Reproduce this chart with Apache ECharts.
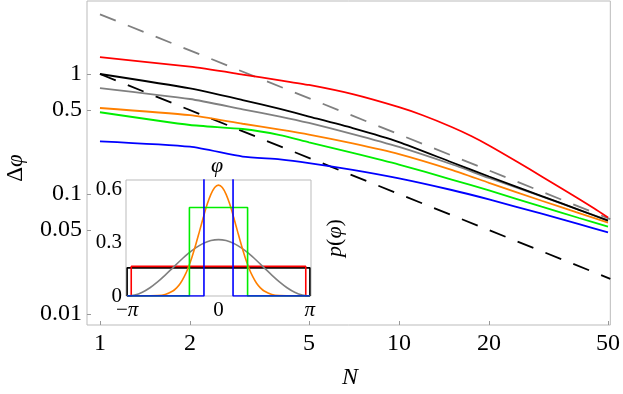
<!DOCTYPE html>
<html>
<head>
<meta charset="utf-8">
<script src="https://cdn.jsdelivr.net/npm/echarts@6/dist/echarts.min.js"></script>
<style>
  html, body { margin: 0; padding: 0; background: #fff; }
  #chart { width: 623px; height: 394px; }
</style>
</head>
<body>
<div id="chart"></div>
<script>
// main plot: phase uncertainty vs N, log-log
const N = [1, 2, 3, 4, 5, 7, 10, 15, 20, 30, 40, 50];
const redN = [1, 2, 3, 4, 5, 7, 10, 12, 15, 17.5, 20, 25, 30, 35, 40, 45, 50];
const redLine = [1.38, 1.15, 0.99, 0.886, 0.81, 0.679, 0.529, 0.453, 0.362, 0.303, 0.254, 0.184, 0.14, 0.111, 0.0908, 0.0757, 0.0637];
const blackLine = [1.0, 0.759, 0.607, 0.511, 0.442, 0.354, 0.271, 0.184, 0.14, 0.0961, 0.0738, 0.06];
const grayLine = [0.764, 0.619, 0.508, 0.442, 0.391, 0.316, 0.247, 0.177, 0.136, 0.0955, 0.0737, 0.0603];
const orangeLine = [0.521, 0.454, 0.385, 0.344, 0.313, 0.264, 0.215, 0.159, 0.124, 0.0879, 0.0694, 0.0578];
const greenLine = [0.48, 0.376, 0.348, 0.31, 0.269, 0.22, 0.176, 0.132, 0.107, 0.0784, 0.0631, 0.0534];
const blueLine = [0.275, 0.248, 0.205, 0.194, 0.181, 0.159, 0.135, 0.108, 0.0902, 0.0685, 0.056, 0.048];

const dashN = [1, 50.9];
const grayDashed = [3.1416, 0.0617];
const blackDashed = [1, 0.01965];

const xTicks = [1, 2, 5, 10, 20, 50];
const xTickLabels = ['1', '2', '5', '10', '20', '50'];
const yTicks = [0.01, 0.05, 0.1, 0.5, 1];
const yTickLabels = ['0.01', '0.05', '0.1', '0.5', '1'];

// inset: p(phi)
const phiOrange = [-3.1416, -2.618, -2.0944, -1.8326, -1.5708, -1.44, -1.309, -1.1781, -1.0472, -0.9163, -0.7854, -0.6545, -0.5236, -0.3927, -0.2618, -0.1309,
  0, 0.1309, 0.2618, 0.3927, 0.5236, 0.6545, 0.7854, 0.9163, 1.0472, 1.1781, 1.309, 1.44, 1.5708, 1.8326, 2.0944, 2.618, 3.1416];
const pOrange = [0, 0, 0.0025, 0.009, 0.028, 0.046, 0.072, 0.109, 0.157, 0.218, 0.288, 0.365, 0.443, 0.516, 0.574, 0.613,
  0.626, 0.613, 0.574, 0.516, 0.443, 0.365, 0.288, 0.218, 0.157, 0.109, 0.072, 0.046, 0.028, 0.009, 0.0025, 0, 0];
const phiGray = [-3.1416, -2.8798, -2.618, -2.3562, -2.0944, -1.8326, -1.5708, -1.309, -1.0472, -0.7854, -0.5236, -0.2618,
  0, 0.2618, 0.5236, 0.7854, 1.0472, 1.309, 1.5708, 1.8326, 2.0944, 2.3562, 2.618, 2.8798, 3.1416];
const pGray = [0, 0.0054, 0.0213, 0.0466, 0.0796, 0.118, 0.1592, 0.2003, 0.2387, 0.2717, 0.297, 0.3129,
  0.3183, 0.3129, 0.297, 0.2717, 0.2387, 0.2003, 0.1592, 0.118, 0.0796, 0.0466, 0.0213, 0.0054, 0];
const phiBlack = [-3.1416, -3.1416, 3.1416, 3.1416];
const pBlack = [0, 0.159, 0.159, 0];
const phiRed = [-3.1416, -3.0, -3.0, 3.0, 3.0, 3.1416];
const pRed = [0, 0, 0.167, 0.167, 0, 0];
const phiGreen = [-3.1416, -1.0, -1.0, 1.0, 1.0, 3.1416];
const pGreen = [0, 0, 0.5, 0.5, 0, 0];
const phiBlue = [-3.1416, -0.5, -0.5, 0.5, 0.5, 3.1416];
const pBlue = [0, 0, 1.0, 1.0, 0, 0];

const serif = '"Liberation Serif", "DejaVu Serif", serif';
const frameColor = '#bbbbbb';

function logPairs(xs, ys) {
  return xs.map((x, i) => [Math.log10(x), Math.log10(ys[i])]);
}
function pairs(xs, ys) {
  return xs.map((x, i) => [x, ys[i]]);
}
function tickLabel(ticks, labels, v) {
  let best = 0;
  ticks.forEach((t, i) => {
    if (Math.abs(Math.log10(t) - v) < Math.abs(Math.log10(ticks[best]) - v)) best = i;
  });
  return labels[best];
}

function mainLine(name, xs, ys, color, dash) {
  return {
    name: name, type: 'line', xAxisIndex: 0, yAxisIndex: 0,
    data: logPairs(xs, ys), showSymbol: false, symbol: 'none',
    smooth: dash ? false : 0.2,
    lineStyle: { color: color, width: 1.8, type: dash ? [17, 13] : 'solid' }
  };
}
function insetLine(name, xs, ys, color, smooth) {
  return {
    name: name, type: 'line', xAxisIndex: 1, yAxisIndex: 1,
    data: pairs(xs, ys), showSymbol: false, symbol: 'none', smooth: smooth ? 0.3 : false,
    clip: true,
    lineStyle: { color: color, width: 1.6 }
  };
}

let myChart = echarts.init(document.getElementById('chart'));
myChart.setOption({
  animation: false,
  backgroundColor: '#fff',
  grid: [
    { left: 87, right: 11, top: 1, bottom: 69, show: true, borderColor: frameColor, borderWidth: 1 },
    { left: 126, width: 185, top: 180, height: 116, show: true, borderColor: frameColor, borderWidth: 1 }
  ],
  xAxis: [
    {
      gridIndex: 0, type: 'value', min: Math.log10(0.905), max: Math.log10(50.9),
      axisLine: { show: false, onZero: false }, splitLine: { show: false },
      axisTick: { inside: true, length: 4, customValues: xTicks.map(Math.log10), lineStyle: { color: '#999' } },
      axisLabel: {
        customValues: xTicks.map(Math.log10), margin: 7,
        formatter: v => tickLabel(xTicks, xTickLabels, v),
        fontFamily: serif, fontSize: 24, color: '#000'
      }
    },
    {
      gridIndex: 1, type: 'value', min: -3.18, max: 3.18,
      axisLine: { show: false, onZero: false }, splitLine: { show: false },
      axisTick: { show: false },
      axisLabel: {
        customValues: [-Math.PI, 0, Math.PI], margin: 4,
        formatter: v => (v < -1 ? '{n|−}{i|π}' : (v > 1 ? '{i|π}' : '{n|0}')),
        rich: {
          n: { fontFamily: serif, fontSize: 21, color: '#000' },
          i: { fontFamily: serif, fontSize: 21, fontStyle: 'italic', color: '#000' }
        }
      }
    }
  ],
  yAxis: [
    {
      gridIndex: 0, type: 'value', min: Math.log10(0.0081), max: Math.log10(4.058),
      axisLine: { show: false, onZero: false }, splitLine: { show: false },
      axisTick: { inside: true, length: 4, customValues: yTicks.map(Math.log10), lineStyle: { color: '#999' } },
      axisLabel: {
        customValues: yTicks.map(Math.log10), margin: 5,
        formatter: v => tickLabel(yTicks, yTickLabels, v),
        fontFamily: serif, fontSize: 24, color: '#000'
      }
    },
    {
      gridIndex: 1, type: 'value', min: 0, max: 0.655,
      axisLine: { show: false, onZero: false }, splitLine: { show: false },
      axisTick: { show: false },
      axisLabel: {
        customValues: [0, 0.3, 0.6], margin: 4,
        formatter: v => (v === 0 ? '0' : v.toFixed(1)),
        fontFamily: serif, fontSize: 21, color: '#000'
      }
    }
  ],
  graphic: [
    { type: 'text', x: 16, y: 168, rotation: Math.PI / 2,
      style: { text: '{n|Δ}{i|φ}', textAlign: 'center', textVerticalAlign: 'middle',
        rich: { n: { fontFamily: serif, fontSize: 23, fill: '#000' }, i: { fontFamily: serif, fontSize: 23, fontStyle: 'italic', fill: '#000' } } } },
    { type: 'text', x: 350, y: 378,
      style: { text: 'N', font: 'italic 24px ' + serif, textAlign: 'center', textVerticalAlign: 'middle', fill: '#000' } },
    { type: 'text', x: 217, y: 166,
      style: { text: 'φ', font: 'italic 22px ' + serif, textAlign: 'center', textVerticalAlign: 'middle', fill: '#000' } },
    { type: 'text', x: 335, y: 238, rotation: Math.PI / 2,
      style: { text: '{i|p}{n|(}{i|φ}{n|)}', textAlign: 'center', textVerticalAlign: 'middle',
        rich: { n: { fontFamily: serif, fontSize: 22, fill: '#000' }, i: { fontFamily: serif, fontSize: 22, fontStyle: 'italic', fill: '#000' } } } }
  ],
  series: [
    mainLine('1/N', dashN, blackDashed, '#000000', true),
    mainLine('pi/N', dashN, grayDashed, '#808080', true),
    mainLine('blue', N, blueLine, '#0000ff'),
    mainLine('green', N, greenLine, '#00ee00'),
    mainLine('orange', N, orangeLine, '#ff8000'),
    mainLine('gray', N, grayLine, '#808080'),
    mainLine('black', N, blackLine, '#000000'),
    mainLine('red', redN, redLine, '#ff0000'),
    insetLine('p black', phiBlack, pBlack, '#000000'),
    insetLine('p red', phiRed, pRed, '#ff0000'),
    insetLine('p gray', phiGray, pGray, '#808080', true),
    insetLine('p orange', phiOrange, pOrange, '#ff8000', true),
    insetLine('p green', phiGreen, pGreen, '#00ee00'),
    insetLine('p blue', phiBlue, pBlue, '#0000ff')
  ]
});
</script>
</body>
</html>
